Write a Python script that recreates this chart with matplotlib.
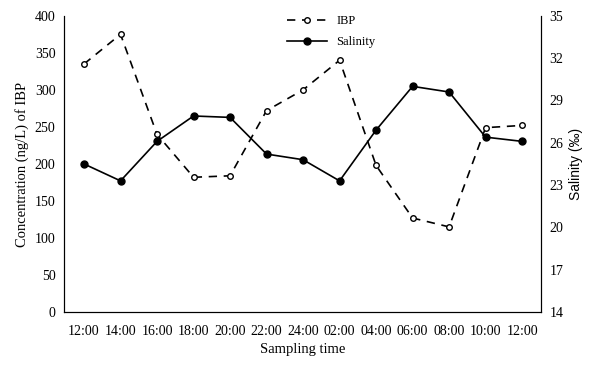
import matplotlib.pyplot as plt

plt.rcParams['font.family'] = ['Liberation Serif', 'DejaVu Serif']

times = ["12:00", "14:00", "16:00", "18:00", "20:00", "22:00", "24:00",
         "02:00", "04:00", "06:00", "08:00", "10:00", "12:00"]
ibp = [335, 375, 240, 182, 184, 272, 300, 340, 198, 127, 115, 249, 252]
salinity = [24.5, 23.3, 26.1, 27.9, 27.8, 25.2, 24.8, 23.3, 26.9, 30.0, 29.6, 26.4, 26.1]

x = list(range(len(times)))

fig, ax = plt.subplots(figsize=(5.92, 3.68), dpi=100)
ax2 = ax.twinx()

l1, = ax.plot(x, ibp, ls=(0, (5, 4)), color="black", lw=1.2, marker="o", ms=4,
              mfc="white", mec="black", mew=1, label="IBP")
l2, = ax2.plot(x, salinity, ls="-", color="black", lw=1.2, marker="o", ms=5,
               mfc="black", mec="black", label="Salinity")

ax.set_xlim(-0.55, 12.52)
ax.set_ylim(0, 400)
ax.set_yticks(range(0, 401, 50))
ax2.set_ylim(14, 35)
ax2.set_yticks(range(14, 36, 3))
ax.set_xticks(x)
ax.set_xticklabels(times)

for a in (ax, ax2):
    a.spines["top"].set_visible(False)
    a.tick_params(length=0, labelsize=10, pad=6)
ax.tick_params(axis="x", pad=9)

ax.set_ylabel("Concentration (ng/L) of IBP", fontsize=10.5)
ax2.set_ylabel("Salinity (‰)", fontsize=10, family=["Liberation Sans", "DejaVu Sans"],
               labelpad=4)
ax.set_xlabel("Sampling time", fontsize=10.5)

ax.legend(handles=[l1, l2], loc="upper center", bbox_to_anchor=(0.56, 1.04),
          frameon=False, fontsize=9, handlelength=3.2, labelspacing=0.7)

fig.subplots_adjust(left=0.108, right=0.914, top=0.957, bottom=0.152)
fig.savefig("out.png", dpi=100)
